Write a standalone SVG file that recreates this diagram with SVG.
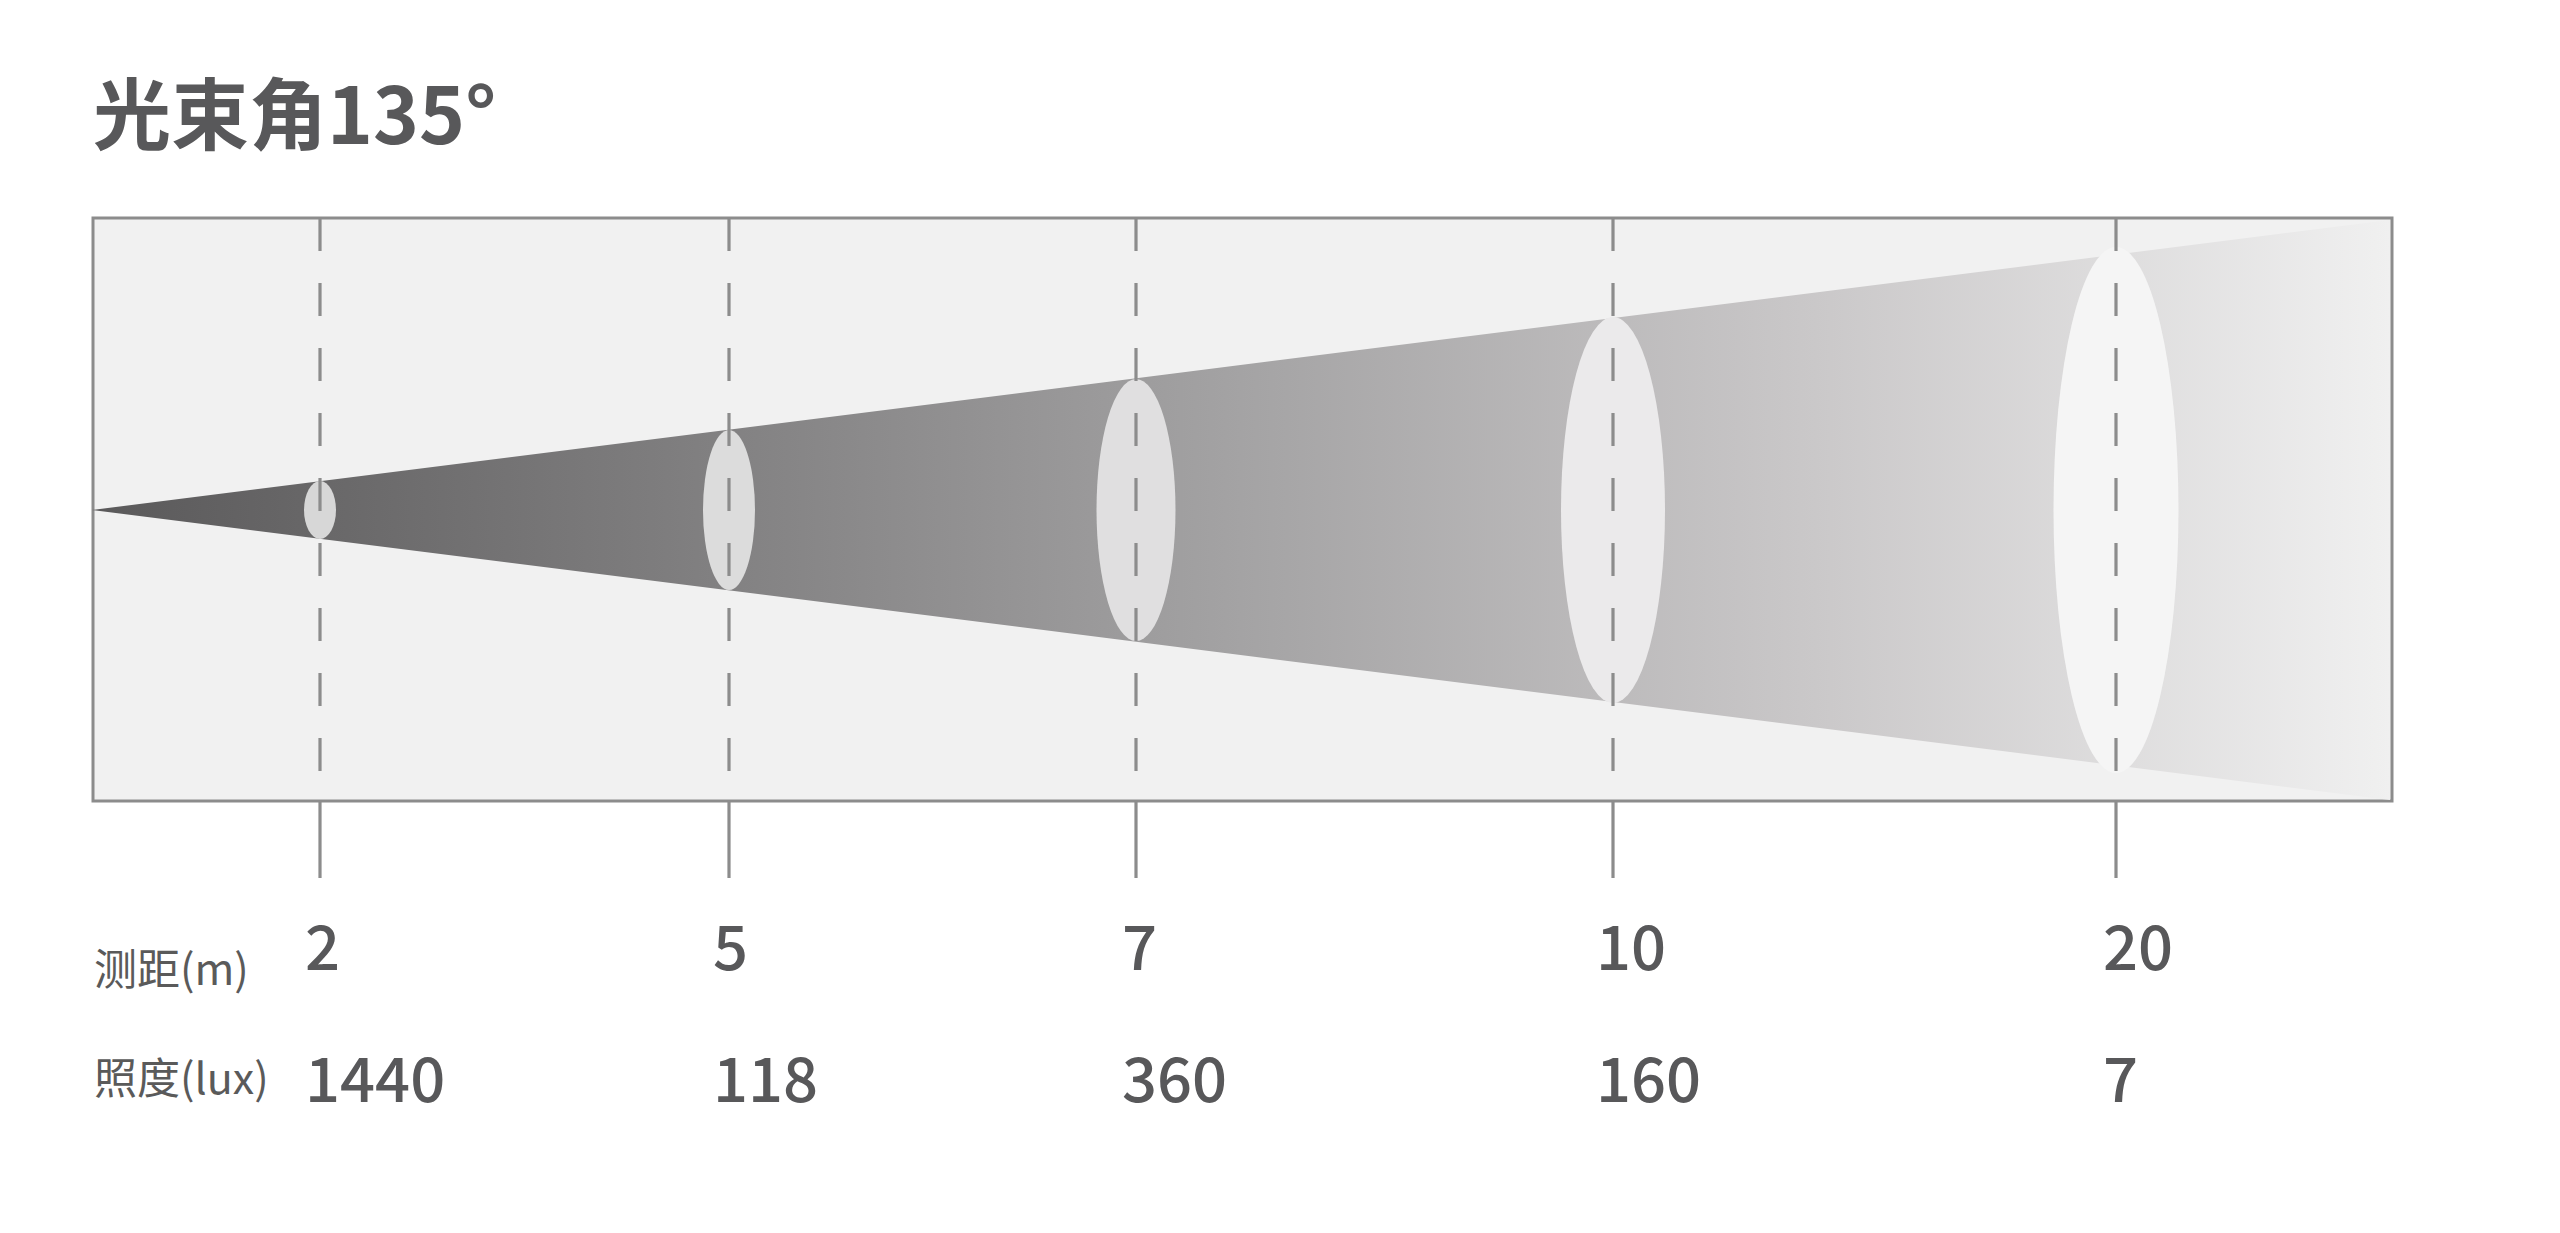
<svg xmlns="http://www.w3.org/2000/svg" width="2560" height="1233" viewBox="0 0 2560 1233">
  <defs>
    <linearGradient id="beamGrad" gradientUnits="userSpaceOnUse" x1="92" y1="0" x2="2390" y2="0">
      <stop offset="0" stop-color="#5a595a"/>
      <stop offset="0.25" stop-color="#7e7d7e"/>
      <stop offset="0.5" stop-color="#a4a3a4"/>
      <stop offset="0.75" stop-color="#cac8c9"/>
      <stop offset="1" stop-color="#f0f0f0"/>
    </linearGradient>
    <style>
      .frame { fill: #f1f1f1; stroke: #8c8c8c; stroke-width: 3; }
      .dash { stroke: #8c8c8c; stroke-width: 3.2; stroke-dasharray: 33 32; fill: none; }
      .tick { stroke: #8c8c8c; stroke-width: 3.2; fill: none; }
      .title { font-family: "Noto Sans CJK SC", "Noto Sans", sans-serif; font-weight: 700; font-size: 78px; fill: #58585a; }
      .rowlabel { font-family: "Noto Sans CJK SC", "Noto Sans", sans-serif; font-weight: 400; font-size: 43px; fill: #5a5a5a; }
      .val { font-family: "Noto Sans CJK SC", "Noto Sans", sans-serif; font-weight: 500; font-size: 61.5px; fill: #58585a; }
    </style>
  </defs>

  <rect x="0" y="0" width="2560" height="1233" fill="#ffffff"/>

  <g id="title">
    <text class="title" x="93" y="144">光束角135°</text>
  </g>

  <g id="frame">
    <rect class="frame" x="93" y="218" width="2299" height="583"/>
  </g>

  <g id="beam">
    <polygon points="92,510 2390,220 2390,800" fill="url(#beamGrad)"/>
  </g>

  <g id="spot-2m">
    <ellipse cx="320" cy="510" rx="16" ry="29" fill="#d7d7d7"/>
  </g>
  <g id="spot-5m">
    <ellipse cx="729" cy="510" rx="26" ry="80" fill="#dcdcdc"/>
  </g>
  <g id="spot-7m">
    <ellipse cx="1136" cy="510" rx="39.5" ry="131" fill="#e0dfe0"/>
  </g>
  <g id="spot-10m">
    <ellipse cx="1613" cy="510" rx="52" ry="193" fill="#ebeaeb"/>
  </g>
  <g id="spot-20m">
    <ellipse cx="2116" cy="510" rx="62.5" ry="263" fill="#f5f5f5"/>
  </g>

  <g id="connectors">
    <line class="dash" x1="320" y1="218" x2="320" y2="801"/>
    <line class="dash" x1="729" y1="218" x2="729" y2="801"/>
    <line class="dash" x1="1136" y1="218" x2="1136" y2="801"/>
    <line class="dash" x1="1613" y1="218" x2="1613" y2="801"/>
    <line class="dash" x1="2116" y1="218" x2="2116" y2="801"/>
    <line class="tick" x1="320" y1="801" x2="320" y2="878"/>
    <line class="tick" x1="729" y1="801" x2="729" y2="878"/>
    <line class="tick" x1="1136" y1="801" x2="1136" y2="878"/>
    <line class="tick" x1="1613" y1="801" x2="1613" y2="878"/>
    <line class="tick" x1="2116" y1="801" x2="2116" y2="878"/>
  </g>

  <g id="row-distance">
    <text class="rowlabel" x="94" y="985">测距(m)</text>
    <text class="val" x="305" y="970">2</text>
    <text class="val" x="713" y="970">5</text>
    <text class="val" x="1122" y="970">7</text>
    <text class="val" x="1596" y="970">10</text>
    <text class="val" x="2103" y="970">20</text>
  </g>

  <g id="row-illuminance">
    <text class="rowlabel" x="94" y="1094">照度(lux)</text>
    <text class="val" x="305" y="1102">1440</text>
    <text class="val" x="713" y="1102">118</text>
    <text class="val" x="1122" y="1102">360</text>
    <text class="val" x="1596" y="1102">160</text>
    <text class="val" x="2103" y="1102">7</text>
  </g>
</svg>
